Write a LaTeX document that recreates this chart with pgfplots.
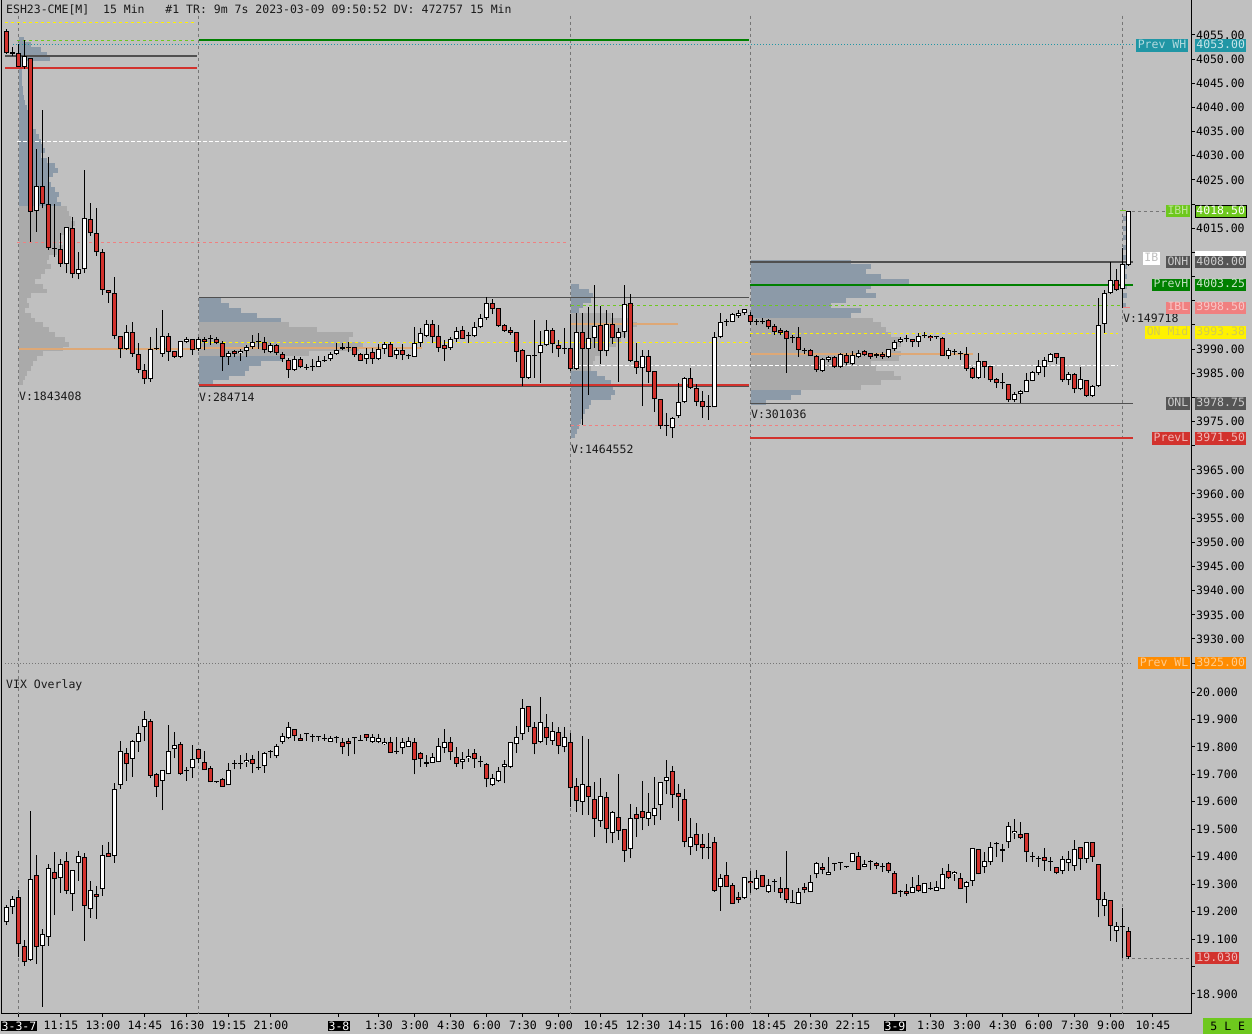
\documentclass[border=0pt]{standalone}
\usepackage{pgfplots}
\pgfplotsset{compat=1.18}
\usepackage{pgfplotstable}
\usepackage{fontspec}
\setmainfont{DejaVu Sans Mono}
\newcommand\lab{\fontsize{11.5}{13}\selectfont}
\setlength{\fboxsep}{1pt}
\newcommand\datebox[1]{\colorbox{black}{\textcolor{white}{#1}}}

\definecolor{bg}{RGB}{192,192,192}
\definecolor{pblue}{RGB}{140,154,168}
\definecolor{pgray}{RGB}{170,170,170}
\definecolor{poc}{RGB}{222,168,118}
\definecolor{cred}{RGB}{210,50,45}
\definecolor{dgreen}{RGB}{0,128,0}
\definecolor{lime}{RGB}{110,200,30}
\definecolor{lvl}{RGB}{80,80,80}
\definecolor{teal2}{RGB}{32,150,165}
\definecolor{sess}{RGB}{118,118,118}
\definecolor{lpink}{RGB}{240,128,128}
\definecolor{orng}{RGB}{255,140,0}
\definecolor{dbox}{RGB}{85,85,85}
\definecolor{txt}{RGB}{26,26,26}

\pgfplotsset{
  ebar/.style 2 args={draw=none, no marks, forget plot,
    error bars/.cd, #1 dir=plus, #1 explicit, error mark=none,
    error bar style={#2}},
}
\tikzset{
  pbox/.style={inner xsep=1pt, inner ysep=1.2pt, text height=8pt,
    text depth=2pt, anchor=west, font=\lab, minimum width=51pt},
  nbox/.style={inner xsep=1.5pt, inner ysep=1.2pt, text height=8pt,
    text depth=2pt, anchor=east, font=\lab},
}

% candles: table, one pixel in data units
\newcommand\candles[2]{%
  \addplot[ebar={y}{draw=black,line width=1pt}] table[x=i, y=l,
    y error plus expr={\thisrow{h}-\thisrow{l}}] {#1};
  \addplot[ebar={y}{draw=black,line width=5pt}] table[x=i,
    y expr={min(\thisrow{o},\thisrow{c})},
    y error plus expr={max(abs(\thisrow{c}-\thisrow{o}),#2)}] {#1};
  \addplot[ebar={y}{draw=white,line width=3pt}] table[x=i,
    y expr={\thisrow{o}+#2},
    y error plus expr={\thisrow{c}>\thisrow{o} ? max(\thisrow{c}-\thisrow{o}-2*#2,0) : 0}] {#1};
  \addplot[ebar={y}{draw=cred,line width=3pt}] table[x=i,
    y expr={\thisrow{c}+#2},
    y error plus expr={\thisrow{o}>\thisrow{c} ? max(\thisrow{o}-\thisrow{c}-2*#2,0) : 0}] {#1};
}
% volume profile rows: table, start index, colour
\newcommand\prof[3]{%
  \addplot[ebar={x}{draw=#3,line width=4.9pt}] table[x expr={#2}, y=p,
    x error plus expr={\thisrow{len}/6}] {#1};
}
\newcommand\lvl[5]{% style, from, to, price
  \addplot[#1, forget plot] coordinates {(#2,#4) (#3,#4)};
}

\pgfplotstableread{
i o h l c
-2 4055.9 4056.2 4051.0 4051.2
-1 4051.4 4052.5 4050.6 4051.0
0 4051.2 4053.2 4048.3 4048.4
1 4048.4 4053.9 4047.9 4050.6
2 4050.3 4050.3 4012.2 4018.4
3 4018.6 4031.3 4014.3 4023.7
4 4023.7 4039.4 4019.1 4020.1
5 4019.9 4029.7 4010.5 4010.8
6 4010.7 4019.9 4009.1 4010.7
7 4010.6 4014.1 4007.0 4007.5
8 4007.5 4015.2 4005.7 4015.2
9 4015.0 4017.4 4004.6 4005.5
10 4005.5 4010.0 4004.4 4006.5
11 4006.5 4027.0 4005.7 4017.2
12 4016.8 4020.3 4013.4 4013.9
13 4013.9 4019.1 4009.3 4010.0
14 4010.0 4010.6 4001.2 4002.3
15 4002.3 4002.3 3999.6 4001.6
16 4001.6 4004.8 3992.0 3992.7
17 3992.7 3992.7 3988.1 3990.1
18 3990.1 3995.0 3989.8 3993.6
19 3993.6 3995.6 3988.4 3989.0
20 3989.0 3991.3 3985.0 3985.7
21 3985.7 3987.0 3982.8 3983.7
22 3983.7 3992.4 3983.2 3990.1
23 3990.1 3994.3 3989.8 3990.1
24 3989.0 3998.0 3988.4 3992.7
25 3992.7 3993.3 3987.6 3989.4
26 3989.6 3989.6 3988.1 3988.4
27 3988.4 3991.7 3988.1 3991.7
28 3991.5 3992.4 3991.2 3992.0
29 3992.0 3992.0 3988.8 3989.7
30 3989.9 3992.4 3989.6 3992.0
31 3992.0 3992.5 3989.7 3991.5
32 3992.0 3992.9 3990.8 3992.0
33 3992.0 3992.4 3991.0 3991.2
34 3991.2 3991.7 3985.5 3988.3
35 3988.3 3989.5 3986.7 3989.1
36 3989.6 3989.8 3988.3 3988.9
37 3989.1 3990.1 3987.6 3989.6
38 3989.6 3990.8 3988.3 3990.4
39 3990.4 3992.9 3990.1 3991.4
40 3991.5 3993.3 3990.1 3991.5
41 3991.4 3992.5 3989.1 3989.7
42 3989.4 3991.2 3989.1 3990.8
43 3990.8 3991.0 3988.8 3989.1
44 3988.9 3989.4 3987.4 3987.9
45 3987.7 3988.1 3984.1 3985.7
46 3985.7 3988.5 3985.5 3987.9
47 3987.9 3988.3 3986.0 3986.2
48 3986.1 3986.9 3985.7 3986.1
49 3986.2 3987.9 3985.5 3986.2
50 3986.2 3988.5 3986.2 3987.5
51 3987.6 3988.6 3987.4 3987.6
52 3987.9 3989.3 3987.6 3989.0
53 3989.0 3991.2 3988.8 3989.8
54 3990.0 3991.2 3989.7 3990.4
55 3990.2 3991.4 3989.3 3990.2
56 3990.4 3990.5 3988.4 3988.7
57 3988.9 3989.2 3987.6 3987.6
58 3987.9 3990.2 3986.9 3989.0
59 3989.3 3990.2 3986.9 3987.9
60 3987.9 3991.0 3987.7 3990.0
61 3990.0 3991.5 3989.0 3991.0
62 3991.0 3991.5 3988.3 3988.4
63 3988.7 3990.2 3988.0 3989.8
64 3989.8 3991.0 3987.7 3988.8
65 3988.5 3988.9 3988.0 3988.5
66 3988.4 3994.5 3988.3 3991.2
67 3991.3 3994.3 3990.5 3993.4
68 3992.7 3996.1 3992.4 3995.2
69 3995.2 3996.1 3991.2 3992.4
70 3992.7 3995.0 3989.3 3990.3
71 3990.8 3991.9 3987.5 3990.1
72 3990.3 3992.4 3989.8 3992.0
73 3992.1 3994.5 3991.4 3993.8
74 3994.0 3994.7 3992.0 3992.1
75 3992.6 3993.6 3991.3 3992.6
76 3992.6 3995.5 3992.4 3994.5
77 3994.5 3997.2 3994.3 3996.4
78 3996.4 4000.7 3996.1 3999.5
79 3999.5 4000.3 3997.2 3998.2
80 3998.4 3998.4 3994.6 3994.8
81 3995.0 3995.2 3993.6 3993.8
82 3993.9 3994.5 3993.0 3993.4
83 3993.5 3993.5 3987.4 3989.4
84 3989.8 3990.0 3982.3 3984.1
85 3984.1 3988.8 3983.8 3988.8
86 3988.5 3996.1 3984.0 3988.5
87 3989.1 3993.7 3983.0 3990.8
88 3990.8 3995.9 3990.6 3993.9
89 3993.9 3994.3 3989.1 3991.0
90 3990.8 3991.9 3988.3 3990.1
91 3990.1 3994.3 3989.0 3990.1
92 3990.2 3997.2 3985.5 3985.8
93 3985.9 3997.4 3985.7 3993.6
94 3993.5 3997.5 3974.3 3990.0
95 3990.1 3998.7 3980.5 3992.3
96 3992.3 4003.2 3990.3 3994.8
97 3994.9 3998.9 3986.9 3989.6
98 3989.5 3998.1 3988.5 3995.1
99 3995.1 3997.5 3991.0 3992.2
100 3992.2 3994.4 3983.2 3993.5
101 3993.5 4003.2 3992.2 3999.3
102 3999.5 4001.4 3987.4 3987.6
103 3987.5 3991.3 3984.9 3986.0
104 3986.0 3989.8 3978.2 3988.5
105 3988.5 3989.8 3982.9 3985.3
106 3985.4 3985.4 3977.0 3979.6
107 3979.6 3979.6 3973.4 3974.1
108 3974.1 3976.7 3972.0 3974.1
109 3973.6 3976.0 3971.6 3975.7
110 3976.1 3983.0 3975.8 3979.1
111 3979.0 3984.3 3978.8 3983.9
112 3983.9 3986.0 3981.7 3981.9
113 3981.9 3982.8 3978.2 3979.1
114 3979.2 3981.3 3975.8 3977.9
115 3978.0 3980.5 3975.4 3978.0
116 3977.9 3993.6 3977.9 3992.4
117 3992.4 3997.5 3992.2 3995.5
118 3995.6 3996.3 3994.8 3995.6
119 3995.6 3997.4 3995.5 3997.2
120 3996.8 3998.0 3996.5 3997.5
121 3997.4 3998.2 3997.0 3998.2
122 3997.0 3997.7 3994.9 3995.6
123 3995.6 3996.3 3994.9 3995.6
124 3995.6 3996.4 3995.1 3995.6
125 3996.0 3996.2 3994.2 3994.5
126 3994.8 3995.2 3992.9 3993.6
127 3993.9 3994.3 3992.8 3993.4
128 3993.7 3993.9 3985.1 3992.0
129 3992.2 3992.8 3991.3 3992.2
130 3992.4 3994.5 3988.4 3989.8
131 3989.6 3990.3 3988.9 3989.6
132 3989.8 3989.9 3988.5 3988.5
133 3988.6 3988.7 3985.3 3985.7
134 3985.4 3988.1 3985.3 3987.9
135 3987.7 3988.6 3987.3 3988.3
136 3988.3 3988.6 3986.1 3986.2
137 3986.2 3989.1 3986.1 3988.9
138 3988.8 3989.1 3986.6 3987.2
139 3986.8 3989.5 3986.6 3988.8
140 3988.4 3989.8 3988.1 3989.1
141 3989.6 3989.8 3988.5 3988.8
142 3989.1 3989.1 3988.0 3988.4
143 3988.5 3989.2 3988.2 3988.9
144 3988.9 3989.3 3987.9 3988.3
145 3988.4 3990.1 3988.2 3989.9
146 3989.9 3991.9 3989.6 3991.5
147 3991.5 3992.4 3991.2 3992.0
148 3992.0 3992.9 3991.5 3992.0
149 3992.0 3992.0 3990.5 3991.4
150 3991.5 3993.3 3990.5 3992.7
151 3992.6 3993.6 3992.3 3992.6
152 3992.7 3993.0 3991.7 3992.2
153 3992.4 3992.7 3992.1 3992.4
154 3992.2 3992.4 3988.6 3988.6
155 3988.6 3990.3 3987.9 3989.8
156 3989.4 3990.1 3988.8 3989.4
157 3988.9 3989.6 3987.8 3988.9
158 3988.9 3990.5 3985.5 3985.9
159 3986.0 3986.2 3983.8 3984.1
160 3984.1 3989.1 3983.8 3987.6
161 3987.6 3987.6 3984.1 3986.3
162 3986.5 3986.5 3983.2 3983.5
163 3983.7 3983.9 3981.9 3982.9
164 3982.9 3985.1 3981.7 3982.9
165 3982.7 3982.7 3979.0 3979.4
166 3979.4 3981.1 3979.0 3980.7
167 3980.7 3981.5 3978.9 3981.3
168 3981.2 3985.1 3981.2 3983.6
169 3983.4 3985.4 3983.3 3985.2
170 3985.1 3987.7 3984.6 3986.5
171 3986.3 3988.4 3984.2 3987.7
172 3987.4 3989.1 3987.4 3989.0
173 3989.1 3989.1 3987.0 3988.2
174 3988.3 3988.4 3983.2 3983.5
175 3983.5 3985.3 3982.5 3984.8
176 3984.8 3985.1 3980.8 3981.7
177 3981.7 3986.2 3981.5 3983.7
178 3983.5 3983.6 3980.1 3980.3
179 3980.3 3982.6 3980.1 3982.4
180 3982.4 4000.5 3982.2 3995.0
181 3995.2 4002.2 3993.4 4001.6
182 4001.5 4008.1 4001.3 4004.3
183 4004.3 4006.5 4002.1 4002.2
184 4002.4 4010.8 3998.4 4007.6
185 4007.4 4018.6 4007.2 4018.6
}\esdata

\pgfplotstableread{
i o h l c
-2 19.161 19.224 19.151 19.216
-1 19.216 19.257 19.191 19.245
0 19.254 19.279 19.036 19.081
1 19.076 19.097 19.002 19.015
2 19.024 19.567 19.021 19.318
3 19.332 19.406 19.009 19.072
4 19.076 19.137 18.854 19.117
5 19.109 19.373 19.075 19.358
6 19.345 19.416 19.188 19.318
7 19.321 19.390 19.269 19.373
8 19.386 19.418 19.264 19.276
9 19.263 19.352 19.203 19.352
10 19.376 19.421 19.313 19.403
11 19.398 19.412 19.094 19.222
12 19.208 19.313 19.178 19.279
13 19.264 19.293 19.173 19.254
14 19.281 19.443 19.257 19.406
15 19.412 19.452 19.400 19.400
16 19.404 19.670 19.378 19.645
17 19.662 19.822 19.648 19.785
18 19.778 19.795 19.677 19.736
19 19.757 19.825 19.692 19.822
20 19.817 19.876 19.783 19.850
21 19.874 19.931 19.821 19.900
22 19.894 19.900 19.685 19.695
23 19.700 19.704 19.619 19.655
24 19.676 19.715 19.570 19.715
25 19.700 19.880 19.700 19.785
26 19.791 19.853 19.758 19.807
27 19.809 19.819 19.698 19.700
28 19.712 19.726 19.677 19.712
29 19.722 19.807 19.688 19.755
30 19.794 19.794 19.740 19.755
31 19.744 19.785 19.715 19.715
32 19.722 19.730 19.671 19.671
33 19.671 19.673 19.669 19.671
34 19.682 19.686 19.655 19.655
35 19.660 19.740 19.660 19.715
36 19.739 19.752 19.718 19.739
37 19.738 19.770 19.718 19.738
38 19.744 19.778 19.728 19.752
39 19.755 19.770 19.704 19.738
40 19.722 19.785 19.716 19.722
41 19.730 19.783 19.706 19.778
42 19.783 19.789 19.758 19.783
43 19.766 19.811 19.758 19.804
44 19.819 19.852 19.811 19.839
45 19.831 19.890 19.827 19.874
46 19.864 19.864 19.823 19.838
47 19.831 19.846 19.823 19.823
48 19.846 19.846 19.823 19.846
49 19.835 19.846 19.819 19.835
50 19.837 19.838 19.823 19.837
51 19.829 19.846 19.823 19.829
52 19.819 19.840 19.819 19.831
53 19.837 19.840 19.813 19.831
54 19.817 19.831 19.773 19.798
55 19.822 19.831 19.768 19.809
56 19.831 19.837 19.773 19.837
57 19.822 19.843 19.822 19.822
58 19.846 19.846 19.823 19.831
59 19.819 19.846 19.815 19.835
60 19.819 19.846 19.813 19.831
61 19.809 19.831 19.807 19.817
62 19.819 19.835 19.777 19.777
63 19.783 19.835 19.773 19.783
64 19.795 19.831 19.773 19.817
65 19.798 19.835 19.798 19.823
66 19.819 19.831 19.700 19.752
67 19.777 19.783 19.728 19.755
68 19.744 19.771 19.728 19.738
69 19.743 19.777 19.740 19.764
70 19.744 19.831 19.744 19.805
71 19.795 19.864 19.779 19.819
72 19.819 19.835 19.752 19.780
73 19.764 19.798 19.728 19.738
74 19.744 19.780 19.718 19.755
75 19.758 19.791 19.746 19.767
76 19.777 19.791 19.724 19.755
77 19.744 19.767 19.725 19.744
78 19.736 19.740 19.653 19.682
79 19.661 19.700 19.658 19.685
80 19.676 19.728 19.673 19.712
81 19.726 19.752 19.667 19.738
82 19.726 19.819 19.722 19.819
83 19.809 19.876 19.779 19.835
84 19.846 19.973 19.825 19.941
85 19.949 19.949 19.856 19.871
86 19.874 19.892 19.773 19.809
87 19.819 19.981 19.813 19.889
88 19.874 19.920 19.807 19.831
89 19.823 19.892 19.807 19.859
90 19.853 19.871 19.773 19.805
91 19.798 19.871 19.780 19.835
92 19.819 19.849 19.582 19.649
93 19.659 19.685 19.564 19.604
94 19.600 19.840 19.552 19.664
95 19.659 19.830 19.552 19.619
96 19.609 19.671 19.473 19.536
97 19.530 19.685 19.509 19.622
98 19.619 19.634 19.449 19.500
99 19.485 19.568 19.449 19.562
100 19.546 19.701 19.461 19.494
101 19.500 19.500 19.382 19.421
102 19.427 19.592 19.394 19.540
103 19.554 19.582 19.473 19.536
104 19.567 19.676 19.497 19.540
105 19.536 19.633 19.512 19.562
106 19.548 19.689 19.515 19.576
107 19.587 19.671 19.534 19.671
108 19.675 19.752 19.628 19.689
109 19.713 19.730 19.579 19.624
110 19.631 19.665 19.531 19.616
111 19.609 19.645 19.434 19.452
112 19.434 19.540 19.406 19.473
113 19.481 19.521 19.422 19.441
114 19.445 19.481 19.390 19.430
115 19.433 19.485 19.390 19.433
116 19.452 19.471 19.273 19.276
117 19.291 19.336 19.203 19.321
118 19.332 19.380 19.291 19.291
119 19.296 19.303 19.227 19.227
120 19.252 19.270 19.233 19.241
121 19.251 19.325 19.245 19.325
122 19.311 19.348 19.267 19.303
123 19.281 19.351 19.279 19.321
124 19.333 19.333 19.288 19.291
125 19.270 19.318 19.269 19.296
126 19.307 19.319 19.273 19.307
127 19.285 19.325 19.248 19.267
128 19.285 19.421 19.230 19.242
129 19.230 19.279 19.230 19.230
130 19.228 19.285 19.228 19.270
131 19.291 19.303 19.269 19.277
132 19.270 19.333 19.270 19.309
133 19.336 19.382 19.321 19.376
134 19.364 19.376 19.337 19.352
135 19.332 19.398 19.332 19.345
136 19.373 19.376 19.349 19.373
137 19.378 19.379 19.352 19.378
138 19.361 19.362 19.360 19.361
139 19.379 19.412 19.379 19.412
140 19.404 19.416 19.352 19.352
141 19.364 19.388 19.361 19.374
142 19.379 19.388 19.352 19.379
143 19.376 19.382 19.354 19.366
144 19.361 19.376 19.346 19.361
145 19.376 19.382 19.342 19.349
146 19.339 19.348 19.263 19.263
147 19.270 19.279 19.254 19.270
148 19.276 19.300 19.258 19.263
149 19.269 19.325 19.267 19.291
150 19.297 19.333 19.273 19.276
151 19.267 19.303 19.267 19.303
152 19.282 19.309 19.279 19.282
153 19.276 19.313 19.276 19.291
154 19.281 19.358 19.281 19.337
155 19.349 19.373 19.319 19.321
156 19.337 19.348 19.313 19.345
157 19.324 19.339 19.281 19.281
158 19.291 19.313 19.230 19.307
159 19.312 19.430 19.295 19.430
160 19.427 19.427 19.336 19.336
161 19.361 19.418 19.340 19.385
162 19.379 19.452 19.370 19.434
163 19.445 19.452 19.400 19.445
164 19.421 19.446 19.379 19.427
165 19.452 19.525 19.430 19.512
166 19.485 19.537 19.463 19.495
167 19.483 19.525 19.463 19.467
168 19.485 19.485 19.382 19.416
169 19.400 19.418 19.382 19.400
170 19.390 19.404 19.364 19.390
171 19.398 19.430 19.349 19.386
172 19.382 19.398 19.349 19.382
173 19.364 19.364 19.336 19.339
174 19.349 19.404 19.336 19.390
175 19.376 19.421 19.349 19.390
176 19.366 19.461 19.349 19.427
177 19.434 19.434 19.352 19.390
178 19.390 19.452 19.376 19.452
179 19.455 19.455 19.382 19.400
180 19.372 19.372 19.179 19.242
181 19.222 19.270 19.184 19.245
182 19.242 19.242 19.094 19.148
183 19.129 19.161 19.090 19.148
184 19.145 19.212 19.030 19.145
185 19.129 19.145 19.026 19.033
}\vixdata

% volume profiles: price row, length in px
\pgfplotstableread{
p len
4054 5
4053 12
4052 22
4051 28
4050 31
4049 6
4048 3
4047 3
4046 3
4045 3
4044 4
4043 4
4042 5
4041 6
4040 8
4039 10
4038 12
4037 12
4036 14
4035 17
4034 20
4033 22
4032 24
4031 26
4030 22
4029 28
4028 36
4027 39
4026 34
4025 30
4024 32
4023 36
4022 40
4021 38
4020 42
}\pAb
\pgfplotstableread{
p len
4019 48
4018 50
4017 52
4016 56
4015 54
4014 46
4013 42
4012 40
4011 44
4010 38
4009 30
4008 28
4007 32
4006 26
4005 22
4004 16
4003 24
4002 28
4001 12
4000 8
3999 10
3998 6
3997 12
3996 16
3995 24
3994 30
3993 36
3992 46
3991 50
3990 44
3989 24
3988 18
3987 14
3986 12
3985 8
3984 6
3983 4
}\pAg
\pgfplotstableread{
p len
4000 22
3999 30
3998 42
3997 58
3996 82
3988 84
3987 62
3986 50
3985 46
3984 30
3983 14
}\pBb
\pgfplotstableread{
p len
3995 90
3994 118
3993 154
3992 150
3991 164
3990 160
3989 110
}\pBg
\pgfplotstableread{
p len
4003 8
4002 18
4001 22
4000 20
3999 12
3998 8
3985 26
3984 34
3983 40
3982 42
3981 44
3980 40
3979 20
3978 18
3977 14
3976 12
3975 10
3974 8
3973 6
3972 4
}\pCb
\pgfplotstableread{
p len
3997 40
3996 60
3995 66
3994 62
3993 55
3992 50
3991 45
3990 36
3989 30
3988 24
3987 22
3986 20
}\pCg
\pgfplotstableread{
p len
4008 100
4007 120
4006 115
4005 130
4004 158
4003 120
4002 115
4001 125
4000 95
3999 80
3998 110
3997 100
3981 50
3980 40
3979 15
}\pDb
\pgfplotstableread{
p len
3996 122
3995 130
3994 135
3993 140
3992 150
3991 150
3990 145
3989 150
3988 148
3987 120
3986 125
3985 143
3984 150
3983 130
3982 110
}\pDg
\pgfplotstableread{
p len
4017 3
4015 4
4013 4
4011 4
4009 4
4007 4
4005 4
4003 4
4001 4
3999 3
}\pEb

\begin{document}
\begin{tikzpicture}[x=1pt,y=1pt]
\useasboundingbox (0,0) rectangle (1252,-1034);
\fill[bg] (0,0) rectangle (1252,-1034);

\begin{axis}[
  at={(2pt,-670pt)}, anchor=south west, scale only axis,
  width=1190pt, height=670pt,
  xmin=-2.8333, xmax=195.5, ymin=3923.58, ymax=4062.21,
  axis x line=none, axis y line*=right, clip=false,
  axis line style={black, line width=1pt},
  ytick={3930,3935,...,3965,3975,3985,3990,4015,4025,4030,...,4055},
  extra y ticks={3925,3970,3980,3995,4000,4005,4010,4020},
  extra y tick labels={},
  scaled y ticks=false,
  tick align=outside, major tick length=3pt,
  tick style={black, line width=1pt},
  yticklabel style={font=\lab, text=black, inner xsep=1pt, inner ysep=1pt,
    /pgf/number format/.cd, fixed, fixed zerofill, precision=2,
    1000 sep={}, assume math mode=true},
]
% session separators
\pgfplotsinvokeforeach{0,30,92,122,184}{
  \addplot[sess, line width=1pt, dash pattern=on 3pt off 3pt, forget plot]
    coordinates {(#1,4059) (#1,3923.58)};
}
% volume profiles
\prof{\pAb}{0}{pblue}
\prof{\pAg}{0}{pgray}
\prof{\pBb}{30}{pblue}
\prof{\pBg}{30}{pgray}
\prof{\pCb}{92}{pblue}
\prof{\pCg}{92}{pgray}
\prof{\pDb}{122}{pblue}
\prof{\pDg}{122}{pgray}
\prof{\pEb}{184}{pblue}
% POC lines
\lvl{poc, line width=2pt}{0}{29.7}{3990.0}{}
\lvl{poc, line width=2pt}{30}{67.2}{3990.2}{}
\lvl{poc, line width=2pt}{92}{109.8}{3995.1}{}
\lvl{poc, line width=2pt}{122}{159}{3989.0}{}
% reference levels
\lvl{yellow, line width=1pt, dash pattern=on 3pt off 3pt}{-2.33}{29.33}{4057.6}{}
\lvl{lime, line width=1pt, dash pattern=on 3pt off 3pt}{-0.33}{29.33}{4053.9}{}
\lvl{teal2, line width=1pt, dash pattern=on 1pt off 2pt}{-1}{185.67}{4053.0}{}
\lvl{dgreen, line width=2.5pt}{30}{121.67}{4053.9}{}
\lvl{lvl, line width=1.5pt}{-2.33}{29.67}{4050.6}{}
\lvl{cred, line width=2pt}{-2.33}{29.67}{4048.1}{}
\lvl{white, line width=1pt, dash pattern=on 4pt off 2pt}{-0.33}{91.33}{4033.0}{}
\lvl{lpink, line width=1pt, dash pattern=on 3pt off 3pt}{-0.33}{91.33}{4012.1}{}
\lvl{yellow, line width=1pt, dash pattern=on 3pt off 3pt}{30}{121.67}{3991.4}{}
\lvl{lvl, line width=1.5pt}{30}{121.67}{4000.7}{}
\lvl{lvl, line width=1pt}{30}{121.67}{3982.2}{}
\lvl{cred, line width=2.5pt}{30}{121.67}{3982.6}{}
\lvl{lime, line width=1pt, dash pattern=on 3pt off 3pt}{92}{184}{3998.9}{}
\lvl{white, line width=1pt, dash pattern=on 4pt off 2pt}{92}{183.2}{3986.5}{}
\lvl{lpink, line width=1pt, dash pattern=on 3pt off 3pt}{92}{183.5}{3974.1}{}
\lvl{yellow, line width=1pt, dash pattern=on 3pt off 3pt}{121.83}{183.2}{3993.2}{}
\lvl{lvl, line width=1.5pt}{121.83}{185.67}{4008.0}{}
\lvl{dgreen, line width=2.5pt}{121.83}{185.67}{4003.25}{}
\lvl{lvl, line width=1.5pt}{121.83}{185.67}{3978.75}{}
\lvl{cred, line width=2pt}{121.83}{185.67}{3971.5}{}
\lvl{sess, line width=1pt, dash pattern=on 1pt off 2pt}{-2.33}{185.67}{3925.0}{}
\lvl{sess, line width=1pt, dash pattern=on 3pt off 3pt}{184.5}{195.5}{4018.5}{}
\lvl{lime, line width=1pt}{183.5}{184.5}{4018.6}{}
\lvl{lpink, line width=1pt}{184}{185.2}{3998.5}{}
% candles
\candles{\esdata}{0.207}
% session volume labels
\node[anchor=west, inner sep=0pt, font=\lab, text=txt] at (axis cs:0,3980.3) {V:1843408};
\node[anchor=west, inner sep=0pt, font=\lab, text=txt] at (axis cs:30,3980.1) {V:284714};
\node[anchor=west, inner sep=0pt, font=\lab, text=txt] at (axis cs:92,3969.3) {V:1464552};
\node[anchor=west, inner sep=0pt, font=\lab, text=txt] at (axis cs:122,3976.5) {V:301036};
\node[anchor=west, inner sep=0pt, font=\lab, text=txt] at (axis cs:184,3996.4) {V:149718};
% level tags on the price scale
\node[nbox, fill=teal2, text=teal2!35!white] at (axis cs:194.83,4052.8) {Prev~WH};
\node[pbox, fill=teal2, text=teal2!25!white] at (axis cs:196,4052.8) {4053.00};
\node[nbox, fill=lime, text=lime!45!white] at (axis cs:195.17,4018.5) {IBH};
\node[pbox, fill=lime, draw=black, text=white] at (axis cs:196,4018.5) {4018.50};
\fill[white] (axis cs:196,4010.2) rectangle (axis cs:204.5,4008.9);
\node[nbox, fill=white, text=black!25!white] at (axis cs:190.17,4008.7) {IB};
\node[nbox, fill=dbox, text=black!20!white] at (axis cs:195.17,4008) {ONH};
\node[pbox, fill=dbox, text=black!20!white] at (axis cs:196,4008) {4008.00};
\node[nbox, fill=dgreen, text=dgreen!25!white] at (axis cs:195.17,4003.25) {PrevH};
\node[pbox, fill=dgreen, text=dgreen!20!white] at (axis cs:196,4003.25) {4003.25};
\node[nbox, fill=lpink, text=lpink!45!white] at (axis cs:195.17,3998.5) {IBL};
\node[pbox, fill=lpink, text=lpink!45!white] at (axis cs:196,3998.5) {3998.50};
\node[nbox, fill=yellow, text=yellow!60!gray] at (axis cs:195.17,3993.38) {ON~Mid};
\node[pbox, fill=yellow, text=yellow!60!gray] at (axis cs:196,3993.38) {3993.38};
\node[nbox, fill=dbox, text=black!20!white] at (axis cs:195.17,3978.75) {ONL};
\node[pbox, fill=dbox, text=black!20!white] at (axis cs:196,3978.75) {3978.75};
\node[nbox, fill=cred, text=cred!35!white] at (axis cs:195.17,3971.5) {PrevL};
\node[pbox, fill=cred, text=cred!35!white] at (axis cs:196,3971.5) {3971.50};
\node[nbox, fill=orng, text=orng!45!white] at (axis cs:195.17,3925) {Prev~WL};
\node[pbox, fill=orng, text=orng!45!white] at (axis cs:196,3925) {3925.00};
\end{axis}

\begin{axis}[
  at={(2pt,-1013.5pt)}, anchor=south west, scale only axis,
  width=1190pt, height=343.5pt,
  xmin=-2.8333, xmax=195.5, ymin=18.8288, ymax=20.0801,
  axis x line*=bottom, axis y line*=right, clip=false,
  axis line style={black, line width=1pt},
  ytick={18.9,19.1,19.2,19.3,19.4,19.5,19.6,19.7,19.8,19.9,20.0},
  extra y ticks={19.0}, extra y tick labels={},
  tick align=outside, major tick length=3pt,
  tick style={black, line width=1pt},
  yticklabel style={font=\lab, text=black, inner xsep=1pt,
    /pgf/number format/.cd, fixed, fixed zerofill, precision=3,
    assume math mode=true},
  xtick={0,7,14,21,28,35,42,53.33,60,66,72,78,84,90,97,104,111,118,125,132,139,146,152,158,164,170,176,182,189},
  xticklabels={\datebox{3-3-7},11:15,13:00,14:45,16:30,19:15,21:00,\datebox{3-8},1:30,3:00,4:30,6:00,7:30,9:00,10:45,12:30,14:15,16:00,18:45,20:30,22:15,\datebox{3-9},1:30,3:00,4:30,6:00,7:30,9:00,10:45},
  xticklabel style={font=\lab, text=black, inner ysep=2pt, yshift=-2pt},
]
\pgfplotsinvokeforeach{0,30,92,122,184}{
  \addplot[sess, line width=1pt, dash pattern=on 3pt off 3pt, forget plot]
    coordinates {(#1,20.0801) (#1,18.8288)};
}
\lvl{sess, line width=1pt, dash pattern=on 3pt off 3pt}{184.5}{195.5}{19.030}{}
\candles{\vixdata}{0.0037}
\node[pbox, fill=cred, text=cred!35!white, minimum width=44pt] at (axis cs:196,19.030) {19.030};
\end{axis}

\draw[black, line width=1pt] (1.5,0) -- (1.5,-1013.5);
\node[anchor=base west, font=\lab, text=txt, inner sep=0pt] at (6,-13)
  {ESH23-CME[M]~~15~Min~~~\#1~TR:~9m~7s~2023-03-09~09:50:52~DV:~472757~15~Min};
\node[anchor=base west, font=\lab, text=txt, inner sep=0pt] at (6,-688) {VIX~Overlay};
\node[anchor=north west, fill=lime, text=black, font=\lab, minimum width=49pt,
  minimum height=16pt, inner sep=0pt] at (1203,-1018) {5~L~E};
\end{tikzpicture}
\end{document}
